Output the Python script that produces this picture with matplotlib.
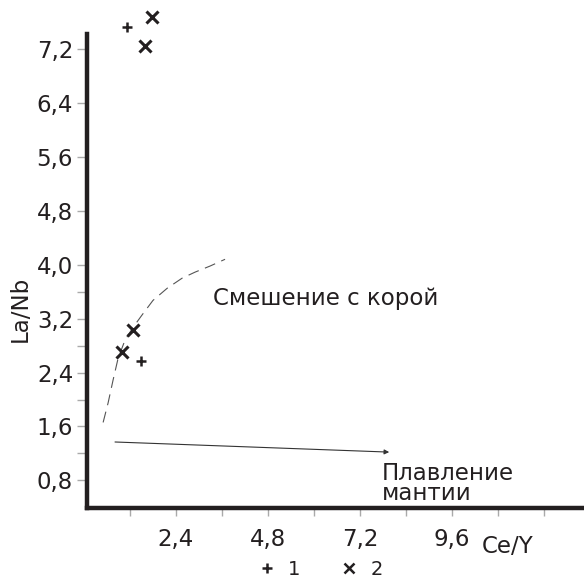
import matplotlib
matplotlib.use("Agg")
import matplotlib.pyplot as plt

plt.rcParams['font.family'] = ['DejaVu Sans']

# Data
s1_x = [1.12, 1.49]
s1_y = [7.53, 2.57]
s2_x = [1.77, 1.59, 1.28, 0.99]
s2_y = [7.67, 7.24, 3.03, 2.70]

curve_x = [0.50, 0.63, 0.76, 0.89, 1.07, 1.28, 1.51, 1.80, 2.17, 2.56, 2.90, 3.29, 3.68]
curve_y = [1.66, 1.95, 2.29, 2.61, 2.88, 3.07, 3.25, 3.47, 3.65, 3.80, 3.89, 3.98, 4.08]

arrow_start = (0.81, 1.37)
arrow_end = (7.96, 1.22)

yticks = [0.8, 1.6, 2.4, 3.2, 4.0, 4.8, 5.6, 6.4, 7.2]
yminor = [1.2, 2.0, 2.8, 3.6]
xticks = [2.4, 4.8, 7.2, 9.6]
xminor = [1.2, 3.6, 6.0, 8.4, 10.8, 12.0]

ink = '#231f20'

fig = plt.figure(figsize=(5.84, 5.78), dpi=100)
ax = fig.add_axes([0.149, 0.121, 0.851, 0.820])
ax.set_xlim(0.08, 13.04)
ax.set_ylim(0.39, 7.42)

ax.plot(curve_x, curve_y, color='#555555', lw=0.8, dashes=(10, 6))
ax.annotate('', xy=arrow_end, xytext=arrow_start,
            arrowprops=dict(arrowstyle='-|>', color='#333333', lw=0.8,
                            mutation_scale=7, shrinkA=0, shrinkB=0))

h1, = ax.plot(s1_x, s1_y, ls='none', marker='+', ms=7, mew=1.8, color=ink,
              clip_on=False, label='1')
h2, = ax.plot(s2_x, s2_y, ls='none', marker='x', ms=9, mew=2.2, color=ink,
              clip_on=False, label='2')

for side in ['top', 'right']:
    ax.spines[side].set_visible(False)
for side in ['left', 'bottom']:
    ax.spines[side].set_linewidth(3.2)
    ax.spines[side].set_color(ink)

ax.set_yticks(yticks)
ax.set_yticklabels([f"{v:.1f}".replace('.', ',') for v in yticks])
ax.set_yticks(yminor, minor=True)
ax.set_xticks(xticks)
ax.set_xticklabels([f"{v:.1f}".replace('.', ',') for v in xticks])
ax.set_xticks(xminor, minor=True)

ax.tick_params(axis='y', which='both', direction='out', length=7, width=1,
               color='#aaaaaa', labelsize=16.5, labelcolor=ink, pad=3)
ax.tick_params(axis='x', which='both', direction='out', length=6, width=1,
               color='#aaaaaa', labelsize=16.5, labelcolor=ink, pad=8)

ax.text(3.37, 3.50, 'Смешение с корой', fontsize=16.5, color=ink,
        ha='left', va='center')
ax.text(7.77, 0.91, 'Плавление', fontsize=16.5, color=ink, ha='left', va='center',
        clip_on=False)
ax.text(7.77, 0.60, 'мантии', fontsize=16.5, color=ink, ha='left', va='center',
        clip_on=False)

fig.text(0.034, 0.465, 'La/Nb', rotation=90, fontsize=16.5, color=ink,
         ha='center', va='center')
fig.text(0.870, 0.055, 'Ce/Y', fontsize=16.5, color=ink, ha='center', va='center')

leg = fig.legend(handles=[h1, h2], loc='center', bbox_to_anchor=(0.548, 0.015),
                 ncol=2, frameon=False, fontsize=14, handlelength=1.0,
                 handletextpad=0.6, columnspacing=2.0, labelcolor=ink,
                 borderpad=0.1)
for hnd in leg.legend_handles:
    hnd.set_markersize(7)
    hnd.set_markeredgewidth(1.8)

fig.savefig('out.png', dpi=100)
